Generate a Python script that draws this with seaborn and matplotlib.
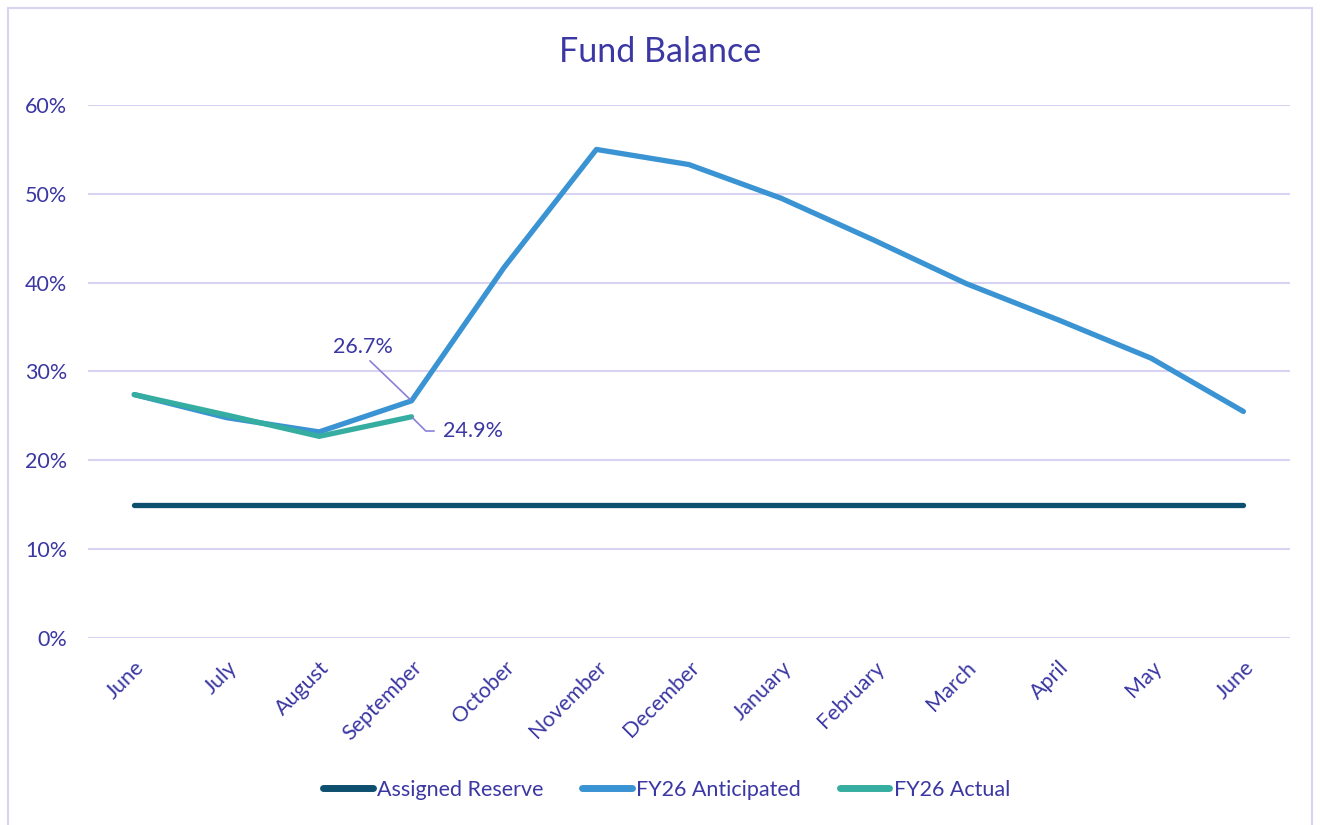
import matplotlib
matplotlib.use("Agg")
import matplotlib.pyplot as plt
import seaborn as sns
import pandas as pd
import numpy as np
from matplotlib.lines import Line2D
from matplotlib.patches import Rectangle

months = ["June", "July", "August", "September", "October", "November", "December",
          "January", "February", "March", "April", "May", "June"]
reserve = [15, 15, 15, 15, 15, 15, 15, 15, 15, 15, 15, 15, 15]
anticipated = [27.4, 24.8, 23.2, 26.7, 41.7, 55.0, 53.3, 49.5, 44.8, 39.9, 35.8, 31.5, 25.5]
actual = [27.4, 25.1, 22.7, 24.9]
yticks = [0, 10, 20, 30, 40, 50, 60]

TXT = "#3B37A3"
GRID = "#D8D3F2"
C_RES = "#0D4F6E"
C_ANT = "#3A93D2"
C_ACT = "#35ADA0"

sns.set_theme(style="white")
plt.rcParams["font.family"] = ["Lato", "DejaVu Sans"]

fig = plt.figure(figsize=(13.2, 8.25), dpi=100)
ax = fig.add_axes([0.0667, 0.2267, 0.9103, 0.646])

idx = list(range(len(months)))
df_res = pd.DataFrame({"x": idx, "y": reserve})
df_ant = pd.DataFrame({"x": idx, "y": anticipated})
df_act = pd.DataFrame({"x": idx[:len(actual)], "y": actual})

kw = dict(solid_capstyle="round", solid_joinstyle="round")
sns.lineplot(data=df_res, x="x", y="y", ax=ax, color=C_RES, lw=3.8, **kw)
sns.lineplot(data=df_ant, x="x", y="y", ax=ax, color=C_ANT, lw=3.8, **kw)
sns.lineplot(data=df_act, x="x", y="y", ax=ax, color=C_ACT, lw=3.8, **kw)

ax.set_xlim(-0.5, len(months) - 0.5)
ax.set_ylim(0, 60)
ax.set_yticks(yticks)
ax.set_yticklabels([f"{v}%" for v in yticks], color=TXT, fontsize=15.5)
ax.set_xticks(idx)
ax.set_xticklabels(months, rotation=45, ha="right", rotation_mode="anchor",
                   color=TXT, fontsize=15.5)
ax.tick_params(axis="x", pad=14, length=0)
ax.tick_params(axis="y", pad=15, length=0)
ax.set_xlabel("")
ax.set_ylabel("")
ax.grid(axis="y", color=GRID, lw=1.5)
ax.set_axisbelow(True)
for s in ax.spines.values():
    s.set_visible(False)

fig.text(0.5, 0.937, "Fund Balance", color=TXT, fontsize=24.5, ha="center", va="center")

lead = "#8A80D8"
ax.annotate("26.7%", xy=(3, anticipated[3]), xytext=(2.47, 32.8),
            fontsize=15.5, color=TXT, ha="center", va="center",
            arrowprops=dict(arrowstyle="-", color=lead, lw=1.2, shrinkA=1, shrinkB=1,
                            relpos=(0.55, 0.0)))
ax.annotate("24.9%", xy=(3, actual[3]), xytext=(3.34, 23.3),
            fontsize=15.5, color=TXT, ha="left", va="center",
            arrowprops=dict(arrowstyle="-", color=lead, lw=1.2, shrinkA=4, shrinkB=1,
                            connectionstyle="angle,angleA=0,angleB=-45,rad=0"))

handles = [Line2D([0], [0], color=c, lw=5, solid_capstyle="round") for c in (C_RES, C_ANT, C_ACT)]
leg = fig.legend(handles, ["Assigned Reserve", "FY26 Anticipated", "FY26 Actual"],
                 loc="center", bbox_to_anchor=(0.505, 0.043), ncol=3, frameon=False,
                 fontsize=15.5, handlelength=2.3, handletextpad=0.2, columnspacing=1.8)
for t in leg.get_texts():
    t.set_color(TXT)

fig.patches.append(Rectangle((0.006, -0.01), 0.988, 1.0, transform=fig.transFigure,
                             fill=False, edgecolor=GRID, lw=1.5))

fig.savefig("out.png", dpi=100)
